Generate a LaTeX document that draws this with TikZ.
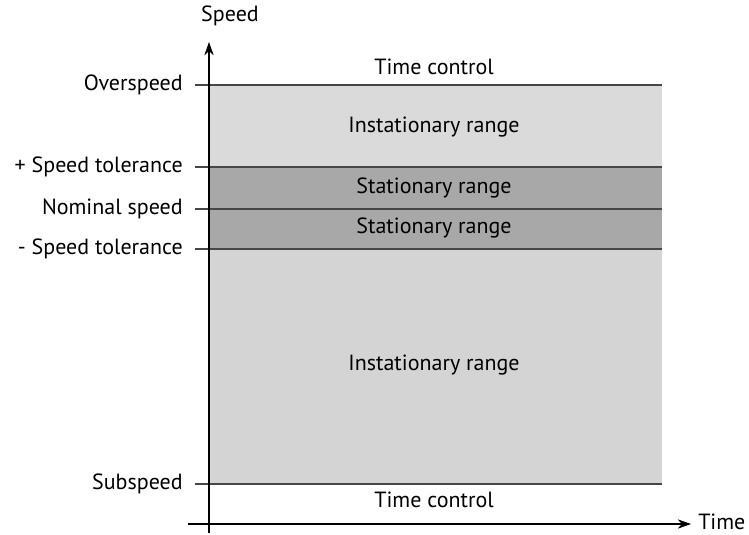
\documentclass[tikz,border=0pt]{standalone}
\usepackage{fontspec}
\setmainfont{PT Sans}
\usepackage{tikz}
\usetikzlibrary{arrows.meta}
\definecolor{instlight}{RGB}{218,218,218}
\definecolor{instlow}{RGB}{212,212,212}
\definecolor{statdark}{RGB}{168,168,168}
\definecolor{levelline}{RGB}{70,70,70}

\begin{document}
\begin{tikzpicture}[x=0.75pt, y=-0.75pt, >={Stealth[length=10pt, width=7pt]},
    font=\fontsize{16.5}{19}\selectfont,
    level/.style={draw=levelline, line width=1.1pt},
    axis/.style={draw=black, line width=0.8pt},
    levellabel/.style={anchor=east, inner sep=0pt},
    rangelabel/.style={inner sep=1pt}]
    \useasboundingbox (0,0) rectangle (749,535);

    % Shaded ranges
    \fill[instlight] (209,85) rectangle (662,167);
    \fill[statdark] (209,167) rectangle (662,249);
    \fill[instlow] (209,249) rectangle (662,484);

    % Speed levels with labels
    \foreach \y/\nm/\txt in {85/over/Overspeed, 167/tolup/+ Speed tolerance,
        209/nom/Nominal speed, 249/toldown/- Speed tolerance, 484/sub/Subspeed} {
        \coordinate (\nm-l) at (195,\y);
        \coordinate (\nm-r) at (662,\y);
        \draw[level] (\nm-l) -- (\nm-r);
        \node[levellabel] (\nm-lab) at (183,\y) {\txt};
    }

    % Axes
    \coordinate (y0) at (209,533);
    \coordinate (y1) at (209,42);
    \coordinate (x0) at (188,524);
    \coordinate (x1) at (691,524);
    \draw[axis, ->] (y0) -- (y1);
    \draw[axis, ->] (x0) -- (x1);
    \node[anchor=west, inner sep=0pt] (timelab) at (698,522) {Time};
    \node (speedlab) at (230,16) {Speed};

    % Range texts
    \node[rangelabel] (tctop) at (434,67) {Time control};
    \node[rangelabel] (insttop) at (434,127) {Instationary range};
    \node[rangelabel] (statup) at (434,188) {Stationary range};
    \node[rangelabel] (statdown) at (434,228) {Stationary range};
    \node[rangelabel] (instlow) at (434,365) {Instationary range};
    \node[rangelabel] (tcbot) at (434,500) {Time control};
\end{tikzpicture}
\end{document}
